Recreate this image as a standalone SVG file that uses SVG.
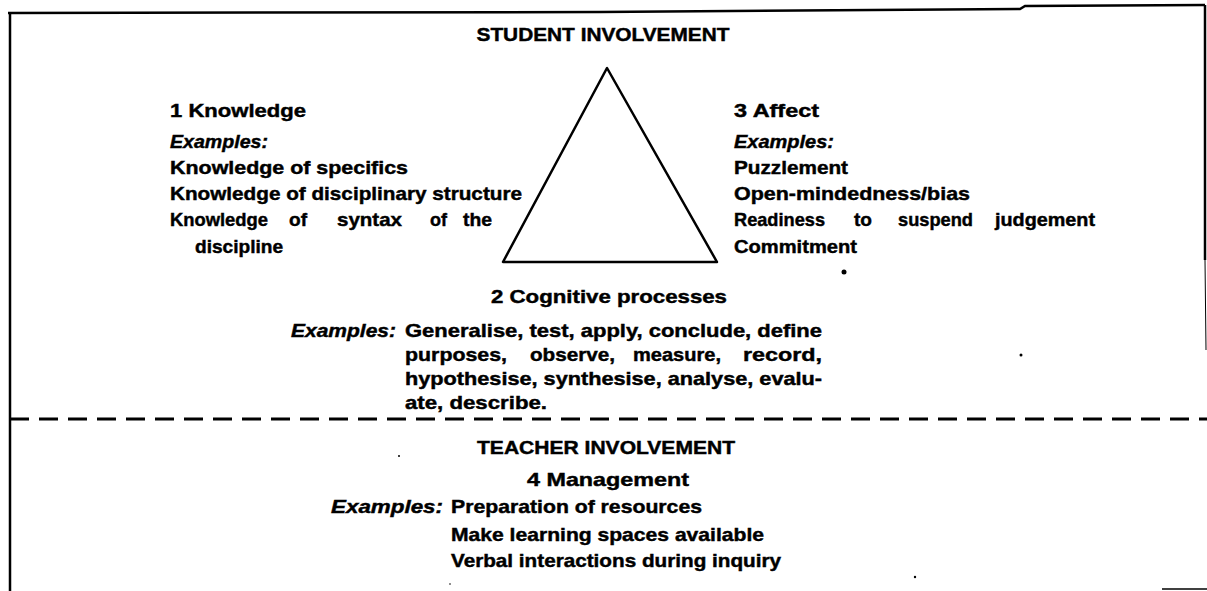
<svg xmlns="http://www.w3.org/2000/svg" width="1207" height="591" viewBox="0 0 1207 591">
<style>
.t{font-family:"Liberation Sans",Arial,sans-serif;font-weight:bold;font-size:19px;fill:#000;stroke:#000;stroke-width:0.45}
.i{font-style:italic}
.h{font-size:19px}
.ln{stroke:#000;fill:none}
.dot{fill:#000}
</style>
<rect width="1207" height="591" fill="#fff"/>
<g id="frame">
<path class="ln" stroke-width="2.5" d="M8,13 L600,12 L1020,9 L1025,6 L1205,5"/>
<path class="ln" stroke-width="2.5" d="M10,13 L10,591"/>
<path class="ln" stroke-width="2.5" d="M1205,5 L1205,260"/>
<path class="ln" stroke-width="1" stroke="#bbb" d="M1205,260 L1206,350"/>
<path class="ln" stroke-width="1.5" stroke="#999" d="M1162,589 L1207,589"/>
</g>
<g id="divider">
<line class="ln" x1="10" y1="419" x2="1207" y2="419" stroke-width="3" stroke-dasharray="19,10"/>
</g>
<g id="student-title">
<text class="t h" x="603" y="41" text-anchor="middle" textLength="253" lengthAdjust="spacingAndGlyphs">STUDENT INVOLVEMENT</text>
</g>
<g id="triangle">
<polygon class="ln" stroke-width="2.5" stroke-linejoin="round" points="607,68 503,262 717,262"/>
</g>
<g id="knowledge">
<text class="t" x="170" y="117" textLength="136" lengthAdjust="spacingAndGlyphs">1 Knowledge</text>
<text class="t i" x="170" y="148" textLength="98" lengthAdjust="spacingAndGlyphs">Examples:</text>
<text class="t" x="170" y="174" textLength="238" lengthAdjust="spacingAndGlyphs">Knowledge of specifics</text>
<text class="t" x="170" y="200" textLength="352" lengthAdjust="spacingAndGlyphs">Knowledge of disciplinary structure</text>
<text class="t" y="226"><tspan x="170" textLength="98" lengthAdjust="spacingAndGlyphs">Knowledge</tspan><tspan x="289" textLength="18" lengthAdjust="spacingAndGlyphs">of</tspan><tspan x="337" textLength="65" lengthAdjust="spacingAndGlyphs">syntax</tspan><tspan x="430" textLength="17" lengthAdjust="spacingAndGlyphs">of</tspan><tspan x="463" textLength="29" lengthAdjust="spacingAndGlyphs">the</tspan></text>
<text class="t" x="195" y="253" textLength="88" lengthAdjust="spacingAndGlyphs">discipline</text>
</g>
<g id="affect">
<text class="t" x="734" y="117" textLength="85" lengthAdjust="spacingAndGlyphs">3 Affect</text>
<text class="t i" x="734" y="148" textLength="100" lengthAdjust="spacingAndGlyphs">Examples:</text>
<text class="t" x="734" y="174" textLength="114" lengthAdjust="spacingAndGlyphs">Puzzlement</text>
<text class="t" x="734" y="200" textLength="236" lengthAdjust="spacingAndGlyphs">Open-mindedness/bias</text>
<text class="t" y="226"><tspan x="734" textLength="91" lengthAdjust="spacingAndGlyphs">Readiness</tspan><tspan x="854" textLength="18" lengthAdjust="spacingAndGlyphs">to</tspan><tspan x="898" textLength="75" lengthAdjust="spacingAndGlyphs">suspend</tspan><tspan x="995" textLength="100" lengthAdjust="spacingAndGlyphs">judgement</tspan></text>
<text class="t" x="734" y="253" textLength="123" lengthAdjust="spacingAndGlyphs">Commitment</text>
</g>
<g id="cognitive">
<text class="t" x="609" y="303" text-anchor="middle" textLength="236" lengthAdjust="spacingAndGlyphs">2 Cognitive processes</text>
<text class="t i" x="291" y="337" textLength="105" lengthAdjust="spacingAndGlyphs">Examples:</text>
<text class="t" x="405" y="337" textLength="417" lengthAdjust="spacingAndGlyphs">Generalise, test, apply, conclude, define</text>
<text class="t" y="361"><tspan x="405" textLength="102" lengthAdjust="spacingAndGlyphs">purposes,</tspan><tspan x="530" textLength="85" lengthAdjust="spacingAndGlyphs">observe,</tspan><tspan x="633" textLength="88" lengthAdjust="spacingAndGlyphs">measure,</tspan><tspan x="743" textLength="79" lengthAdjust="spacingAndGlyphs">record,</tspan></text>
<text class="t" x="405" y="385" textLength="417" lengthAdjust="spacingAndGlyphs">hypothesise, synthesise, analyse, evalu-</text>
<text class="t" x="405" y="409" textLength="142" lengthAdjust="spacingAndGlyphs">ate, describe.</text>
</g>
<g id="teacher-title">
<text class="t h" x="606" y="454" text-anchor="middle" textLength="258" lengthAdjust="spacingAndGlyphs">TEACHER INVOLVEMENT</text>
</g>
<g id="management">
<text class="t" x="608" y="486" text-anchor="middle" textLength="162" lengthAdjust="spacingAndGlyphs">4 Management</text>
<text class="t i" x="331" y="513" textLength="112" lengthAdjust="spacingAndGlyphs">Examples:</text>
<text class="t" x="451" y="513" textLength="251" lengthAdjust="spacingAndGlyphs">Preparation of resources</text>
<text class="t" x="451" y="541" textLength="313" lengthAdjust="spacingAndGlyphs">Make learning spaces available</text>
<text class="t" x="451" y="567" textLength="330" lengthAdjust="spacingAndGlyphs">Verbal interactions during inquiry</text>
</g>
<g id="specks">
<circle class="dot" cx="844" cy="272" r="2.5"/>
<circle class="dot" cx="1021" cy="355" r="1.5"/>
<circle class="dot" cx="915" cy="577" r="1.2"/>
<circle class="dot" cx="399" cy="456" r="1"/>
<circle class="dot" cx="450" cy="584" r="0.8"/>
</g>
</svg>
